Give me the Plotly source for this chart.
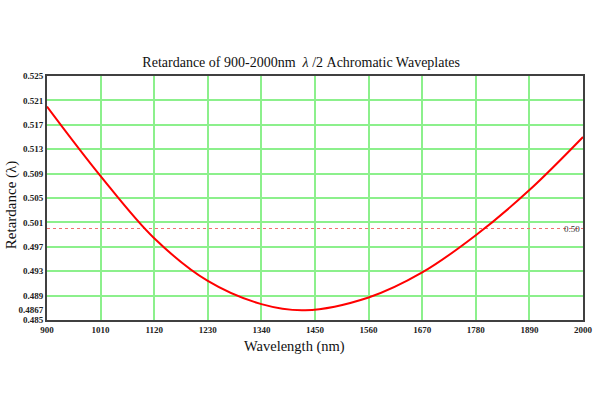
import plotly.graph_objects as go

wavelength = [900, 1010, 1120, 1230, 1340, 1430, 1560, 1670, 1780, 1890, 2000]
retardance = [0.5200, 0.5086, 0.4984, 0.4914, 0.4876, 0.4866, 0.4887, 0.4928, 0.4989, 0.5063, 0.5150]

ref_x = [900, 2000]
ref_y = [0.50, 0.50]
ref_label = "0.50"

x_ticks = [900, 1010, 1120, 1230, 1340, 1450, 1560, 1670, 1780, 1890, 2000]
y_ticks = [0.485, 0.4867, 0.489, 0.493, 0.497, 0.501, 0.505, 0.509, 0.513, 0.517, 0.521, 0.525]
y_tick_text = ["0.485", "0.4867", "0.489", "0.493", "0.497", "0.501", "0.505", "0.509", "0.513", "0.517", "0.521", "0.525"]
y_grid = [0.489, 0.493, 0.497, 0.501, 0.505, 0.509, 0.513, 0.517, 0.521]
x_grid = [1010, 1120, 1230, 1340, 1450, 1560, 1670, 1780, 1890]

serif = "Liberation Serif, Times New Roman, serif"
grid_color = "#8CF08C"
tick_font = dict(family=serif, size=9, color="#222222", weight="bold")

fig = go.Figure()
fig.add_trace(go.Scatter(x=ref_x, y=ref_y, mode="lines",
                         line=dict(color="#F07070", width=1, dash="dot"),
                         hoverinfo="skip", showlegend=False))
fig.add_trace(go.Scatter(x=wavelength, y=retardance, mode="lines",
                         line=dict(color="#FF0000", width=2, shape="spline", smoothing=1.0),
                         showlegend=False))

fig.add_annotation(x=ref_x[-1], y=ref_y[-1], text=ref_label, showarrow=False,
                   xanchor="right", yanchor="middle", xshift=-1,
                   font=dict(family=serif, size=9, color="#333333"))

fig.add_annotation(xref="paper", yref="paper", x=0.461, y=-0.107,
                   text="Wavelength (nm)", showarrow=False,
                   xanchor="center", yanchor="middle",
                   font=dict(family=serif, size=14.5, color="#111111"))
fig.add_annotation(xref="paper", yref="paper", x=-0.067, y=0.471,
                   text="Retardance (λ)", showarrow=False, textangle=-90,
                   xanchor="center", yanchor="middle",
                   font=dict(family=serif, size=15, color="#111111"))

fig.update_layout(
    width=600, height=400,
    margin=dict(l=47, r=17, t=76, b=80),
    paper_bgcolor="white", plot_bgcolor="white",
    title=dict(text="Retardance of 900-2000nm  <i>λ</i> /2 Achromatic Waveplates",
               x=0.502, xanchor="center", y=0.845, yanchor="middle",
               font=dict(family=serif, size=14, color="#111111")),
    xaxis=dict(range=[900, 2000], tickvals=x_ticks, showgrid=False, automargin=False,
               minor=dict(tickvals=x_grid, showgrid=True, gridcolor=grid_color, gridwidth=1.5),
               showline=True, linecolor="#404040", linewidth=2, mirror=True,
               ticks="", zeroline=False, tickfont=tick_font),
    yaxis=dict(range=[0.485, 0.525], tickvals=y_ticks, ticktext=y_tick_text, showgrid=False,
               automargin=False,
               minor=dict(tickvals=y_grid, showgrid=True, gridcolor=grid_color, gridwidth=1.5),
               showline=True, linecolor="#404040", linewidth=2, mirror=True,
               ticks="", zeroline=False, tickfont=tick_font),
)

fig.write_html("out.html")
